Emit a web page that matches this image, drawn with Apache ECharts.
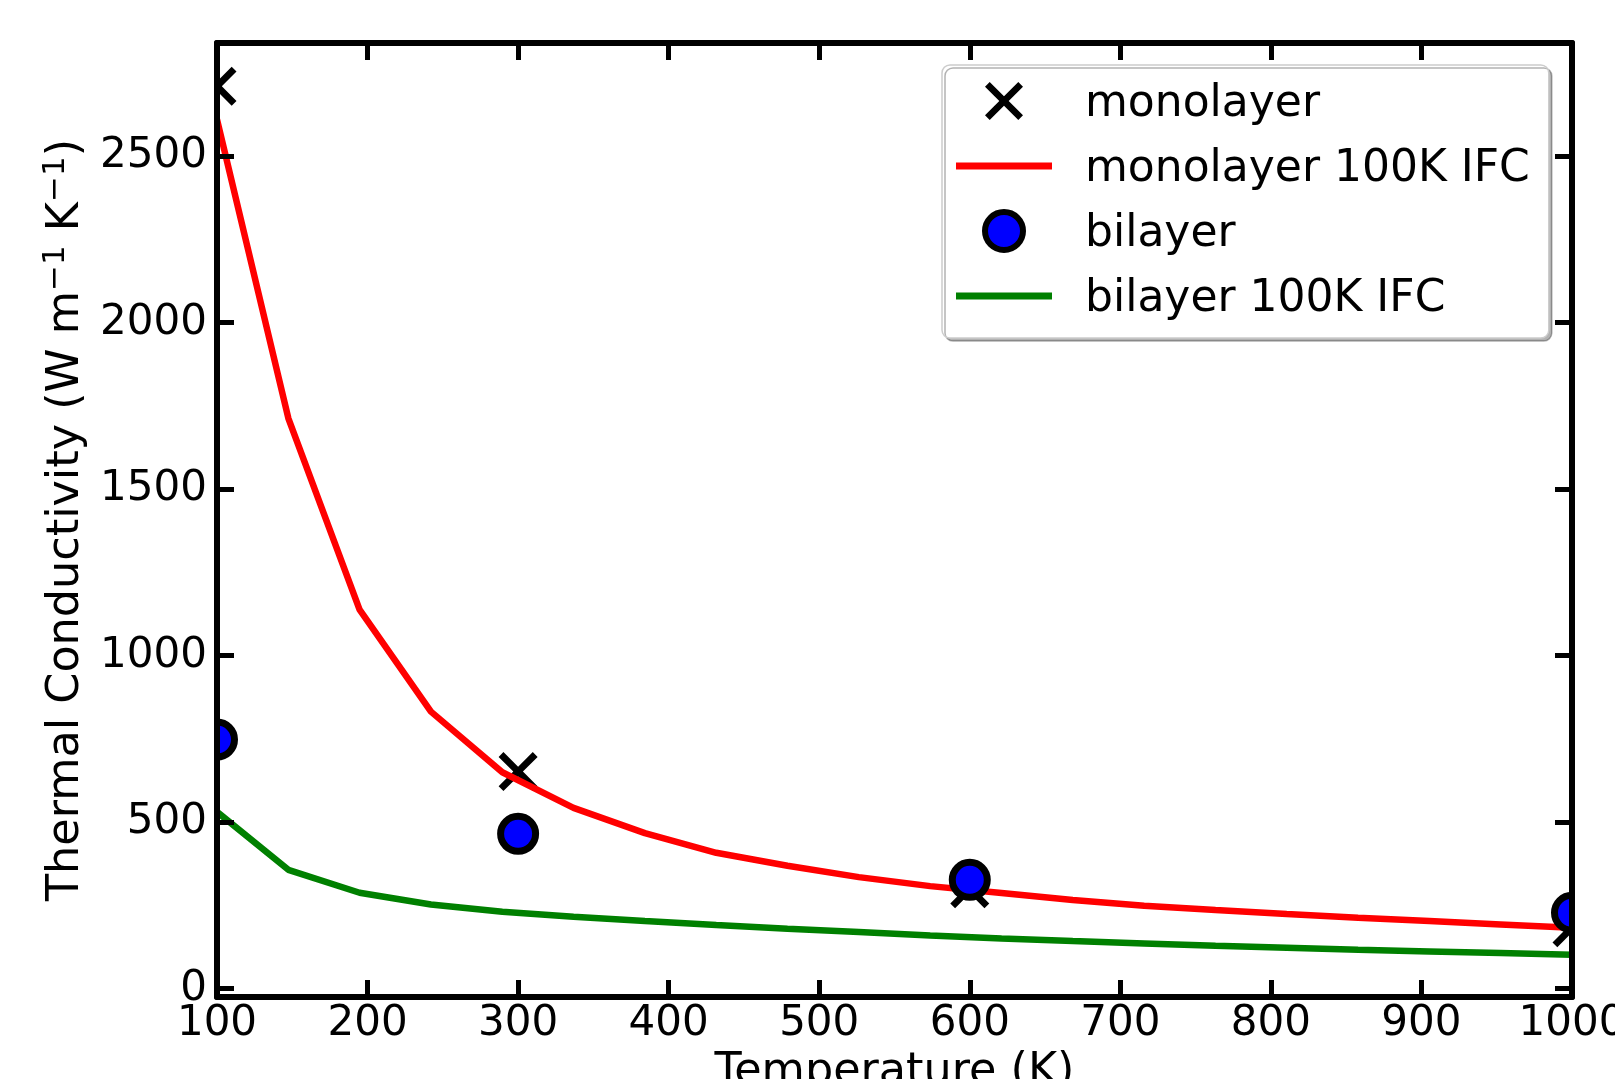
<!DOCTYPE html>
<html>
<head>
<meta charset="utf-8">
<script src="https://cdn.jsdelivr.net/npm/echarts@6/dist/echarts.min.js"></script>
<style>
  html, body { margin: 0; padding: 0; background: #fff; }
  #chart { width: 1615px; height: 1079px; }
</style>
</head>
<body>
<div id="chart"></div>
<script>
// computed points (x marks / circles)
const temps = [100, 300, 600, 1000]
const monolayer = [2710, 652, 300, 183]
const bilayer = [748, 465, 327, 228]

// 100K IFC curves
const ifcTemps = [100, 147.4, 194.7, 242.1, 289.5, 336.8, 384.2, 431.6, 478.9, 526.3,
  573.7, 621.1, 668.4, 715.8, 763.2, 810.5, 857.9, 905.3, 952.6, 1000]
const monoIfc = [2610, 1713, 1138, 832, 650, 543, 467, 408, 369, 335,
  308, 287, 266, 249, 236, 224, 213, 203, 193, 183]
const biIfc = [531, 357, 288, 253, 231, 216, 203, 191, 180, 170,
  160, 151, 143, 136, 129, 123, 117, 112, 107, 102]

const yTicks = [0, 500, 1000, 1500, 2000, 2500]

const font = 'DejaVu Sans'
const xMark = 'path://M0,4.95L4.95,0L20,15.05L35.05,0L40,4.95L24.95,20L40,35.05L35.05,40L20,24.95L4.95,40L0,35.05L15.05,20Z'
const bar = 'path://M0,0H96V7H0Z'

const pairs = (xs, ys) => xs.map((x, i) => [x, ys[i]])

const chart = echarts.init(document.getElementById('chart'))

const xBase = {
  type: 'value',
  min: 100,
  max: 1000,
  interval: 100,
  z: 10,
  splitLine: { show: false },
  axisLine: { show: true, onZero: false, lineStyle: { color: '#000', width: 6 } },
  axisTick: { show: true, inside: true, length: 17, lineStyle: { color: '#000', width: 5 } }
}
const yBase = {
  type: 'value',
  min: -25,
  max: 2840,
  z: 10,
  splitLine: { show: false },
  axisLine: { show: true, onZero: false, lineStyle: { color: '#000', width: 6 } },
  axisTick: { show: true, inside: true, length: 17, customValues: yTicks, lineStyle: { color: '#000', width: 5 } }
}

const option = {
  backgroundColor: '#fff',
  animation: false,
  grid: { left: 217, right: 43, top: 43, bottom: 82, containLabel: false, outerBoundsMode: 'none' },
  xAxis: [
    Object.assign({}, xBase, {
      position: 'bottom',
      name: 'Temperature (K)',
      nameLocation: 'middle',
      nameGap: 50,
      nameTextStyle: { fontFamily: font, fontSize: 44.5, color: '#000' },
      axisLabel: {
        show: true, margin: 6, color: '#000', fontFamily: font, fontSize: 42,
        showMinLabel: true, showMaxLabel: true, hideOverlap: false,
        formatter: v => String(v)
      }
    }),
    Object.assign({}, xBase, { position: 'top', axisLabel: { show: false } })
  ],
  yAxis: [
    Object.assign({}, yBase, {
      position: 'left',
      name: '{a|Thermal Conductivity (W m}{s|−1}{a| K}{s|−1}{a|)}',
      nameLocation: 'middle',
      nameGap: 120,
      nameTextStyle: {
        color: '#000',
        rich: {
          a: { fontFamily: font, fontSize: 44.5, color: '#000', lineHeight: 52 },
          s: { fontFamily: font, fontSize: 31, color: '#000', lineHeight: 31, verticalAlign: 'top' }
        }
      },
      axisLabel: {
        show: true, margin: 10, color: '#000', fontFamily: font, fontSize: 42,
        customValues: yTicks, formatter: v => String(v)
      }
    }),
    Object.assign({}, yBase, { position: 'right', axisLabel: { show: false } })
  ],
  legend: {
    orient: 'vertical',
    left: 942,
    top: 65,
    padding: [10, 19, 16, 14],
    itemWidth: 96,
    itemHeight: 38,
    itemGap: 13,
    selectedMode: false,
    backgroundColor: '#fff',
    borderColor: '#cccccc',
    borderWidth: 1.5,
    borderRadius: 8,
    shadowColor: 'rgba(0,0,0,0.3)',
    shadowOffsetX: 3,
    shadowOffsetY: 3,
    shadowBlur: 0,
    formatter: '{t|{name}}',
    textStyle: {
      fontFamily: font, fontSize: 44, color: '#000',
      rich: {
        t: { fontFamily: font, fontSize: 44, color: '#000', lineHeight: 30, padding: [8, 0, 0, 28] }
      }
    },
    data: [
      { name: 'monolayer', icon: xMark },
      { name: 'monolayer 100K IFC', icon: bar },
      { name: 'bilayer', icon: 'circle', itemStyle: { borderWidth: 6 } },
      { name: 'bilayer 100K IFC', icon: bar }
    ]
  },
  graphic: [
    // white covers so markers are clipped at the frame like the original
    { type: 'rect', z: 5, shape: { x: 0, y: 0, width: 214, height: 1079 }, style: { fill: '#fff' } },
    { type: 'rect', z: 5, shape: { x: 1575, y: 0, width: 40, height: 1079 }, style: { fill: '#fff' } },
    { type: 'rect', z: 5, shape: { x: 0, y: 0, width: 1615, height: 40 }, style: { fill: '#fff' } },
    { type: 'rect', z: 5, shape: { x: 0, y: 1000, width: 1615, height: 79 }, style: { fill: '#fff' } }
  ],
  series: [
    {
      name: 'monolayer',
      type: 'scatter',
      z: 2,
      clip: false,
      symbol: xMark,
      symbolSize: 39,
      itemStyle: { color: '#000', opacity: 1 },
      data: pairs(temps, monolayer)
    },
    {
      name: 'monolayer 100K IFC',
      type: 'line',
      z: 3,
      symbol: 'none',
      color: '#ff0000',
      lineStyle: { color: '#ff0000', width: 6.5 },
      data: pairs(ifcTemps, monoIfc)
    },
    {
      name: 'bilayer',
      type: 'scatter',
      z: 4,
      clip: false,
      symbol: 'circle',
      symbolSize: 35,
      itemStyle: { color: '#0000ff', borderColor: '#000', borderWidth: 7, opacity: 1 },
      data: pairs(temps, bilayer)
    },
    {
      name: 'bilayer 100K IFC',
      type: 'line',
      z: 4,
      symbol: 'none',
      color: '#008000',
      lineStyle: { color: '#008000', width: 6.5 },
      data: pairs(ifcTemps, biIfc)
    }
  ]
}

chart.setOption(option)
</script>
</body>
</html>
